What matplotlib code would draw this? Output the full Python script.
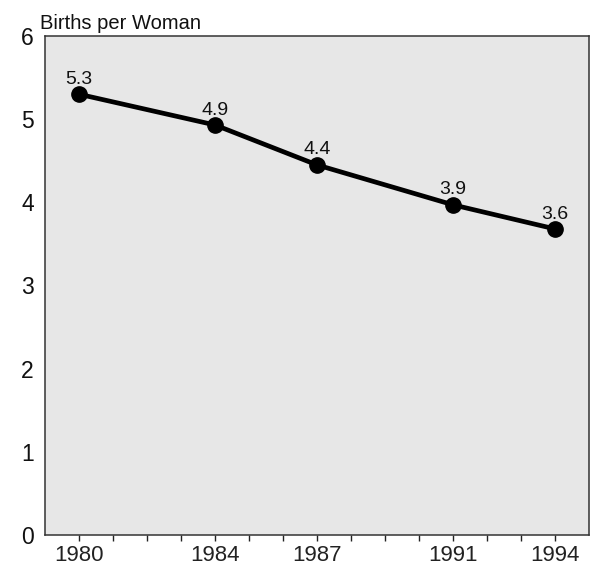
import matplotlib
matplotlib.use("Agg")
import matplotlib.pyplot as plt

years = [1980, 1984, 1987, 1991, 1994]
births = [5.3, 4.93, 4.45, 3.97, 3.68]
point_labels = ["5.3", "4.9", "4.4", "3.9", "3.6"]
minor_years = list(range(1980, 1995))
y_ticks = [0, 1, 2, 3, 4, 5, 6]
y_title = "Births per Woman"

plt.rcParams['font.family'] = ['Liberation Sans', 'DejaVu Sans']

fig = plt.figure(figsize=(5.96, 5.71), dpi=100)
ax = fig.add_axes([45/596, 1 - 535/571, (589 - 45)/596, (535 - 36)/571])
ax.set_facecolor('#e7e7e7')

ax.plot(years, births, color='black', linewidth=3.4, marker='o',
        markersize=11, markerfacecolor='black', markeredgecolor='black',
        solid_capstyle='round', zorder=3)

for x, y, t in zip(years, births, point_labels):
    ax.annotate(t, (x, y), xytext=(0, 7.5), textcoords='offset points',
                ha='center', va='baseline', fontsize=14, color='#111111')

ax.set_xlim(1979, 1995)
ax.set_ylim(0, 6)
ax.set_yticks(y_ticks)
ax.set_yticklabels([str(v) for v in y_ticks], fontsize=16.5)
ax.tick_params(axis='y', length=0, pad=8, colors='#111111')

ax.set_xticks(minor_years)
ax.set_xticklabels([str(y) if y in years else '' for y in minor_years], fontsize=16)
ax.tick_params(axis='x', direction='out', length=4.5, width=1.0, pad=3,
               colors='#222222')

for s in ax.spines.values():
    s.set_color('#333333')
    s.set_linewidth(1.1)

fig.text(40/596, 1 - 29/571, y_title, fontsize=14.5, ha='left', va='baseline',
         color='#111111')

fig.savefig("out.png", dpi=100, facecolor='white')
